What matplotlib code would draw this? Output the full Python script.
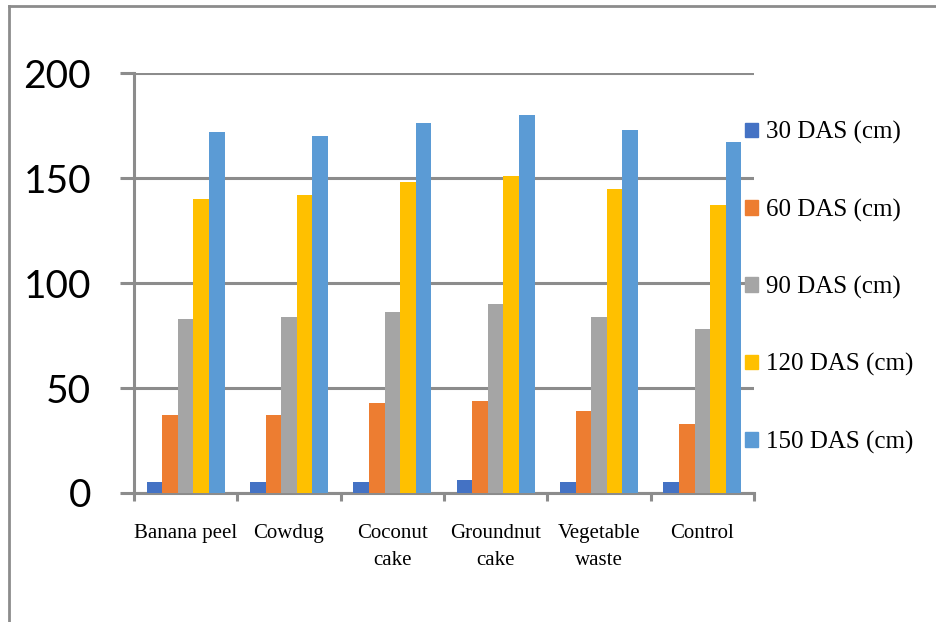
import matplotlib.pyplot as plt
import numpy as np
from matplotlib.lines import Line2D
from matplotlib.patches import Patch

categories = ["Banana peel", "Cowdug", "Coconut\ncake", "Groundnut\ncake", "Vegetable\nwaste", "Control"]
series_names = ["30 DAS (cm)", "60 DAS (cm)", "90 DAS (cm)", "120 DAS (cm)", "150 DAS (cm)"]
das_30 = [5, 5, 5, 6, 5, 5]
das_60 = [37, 37, 43, 44, 39, 33]
das_90 = [83, 84, 86, 90, 84, 78]
das_120 = [140, 142, 148, 151, 145, 137]
das_150 = [172, 170, 176, 180, 173, 167]
colors = ["#4472C4", "#ED7D31", "#A5A5A5", "#FFC000", "#5B9BD5"]

values = [das_30, das_60, das_90, das_120, das_150]
grey = "#8c8c8c"

fig = plt.figure(figsize=(9.37, 6.22), dpi=100)
ax = fig.add_axes([0.143, 0.2074, 0.6617, 0.6752])

x = np.arange(len(categories))
width = 0.151
for i, (name, vals, col) in enumerate(zip(series_names, values, colors)):
    ax.bar(x + (i - 2) * width, vals, width, color=col, label=name, zorder=3)

ax.set_xlim(-0.5, len(categories) - 0.5)
ax.set_ylim(0, 200)
ax.set_yticks([0, 50, 100, 150, 200])
ax.yaxis.grid(True, color=grey, linewidth=2.2, zorder=0)
ax.set_axisbelow(True)

for side in ["top", "right"]:
    ax.spines[side].set_visible(False)
for side in ["left", "bottom"]:
    ax.spines[side].set_color(grey)
    ax.spines[side].set_linewidth(2.2)

# category boundaries carry the tick marks, centres carry the labels
ax.set_xticks(np.arange(-0.5, len(categories)), labels=[""] * (len(categories) + 1))
ax.set_xticks(x, labels=categories, minor=True)
ax.tick_params(axis="x", which="major", direction="out", length=6, width=2.2, color=grey)
ax.tick_params(axis="x", which="minor", length=0, pad=22)
for lbl in ax.get_xticklabels(minor=True):
    lbl.set_fontfamily("Liberation Serif")
    lbl.set_fontsize(15)
    lbl.set_linespacing(1.62)

ax.tick_params(axis="y", direction="out", length=10, width=2.2, color=grey, pad=21)
for lbl in ax.get_yticklabels():
    lbl.set_fontfamily("Lato")
    lbl.set_fontsize(28)

handles = [Patch(color=c) for c in colors]
ax.legend(handles, series_names, loc="center left", bbox_to_anchor=(0.795, 0.538),
          bbox_transform=fig.transFigure, frameon=False, borderpad=0, borderaxespad=0,
          handlelength=0.52, handleheight=0.52, handletextpad=0.32, labelspacing=2.17,
          prop={"family": "Liberation Serif", "size": 18})

# outer chart frame
fig.add_artist(Line2D([0.0101, 0.0101], [0, 0.9905], color=grey, linewidth=2, transform=fig.transFigure))
fig.add_artist(Line2D([0.0101, 1], [0.9905, 0.9905], color=grey, linewidth=2, transform=fig.transFigure))

fig.savefig("out.png", dpi=100)
